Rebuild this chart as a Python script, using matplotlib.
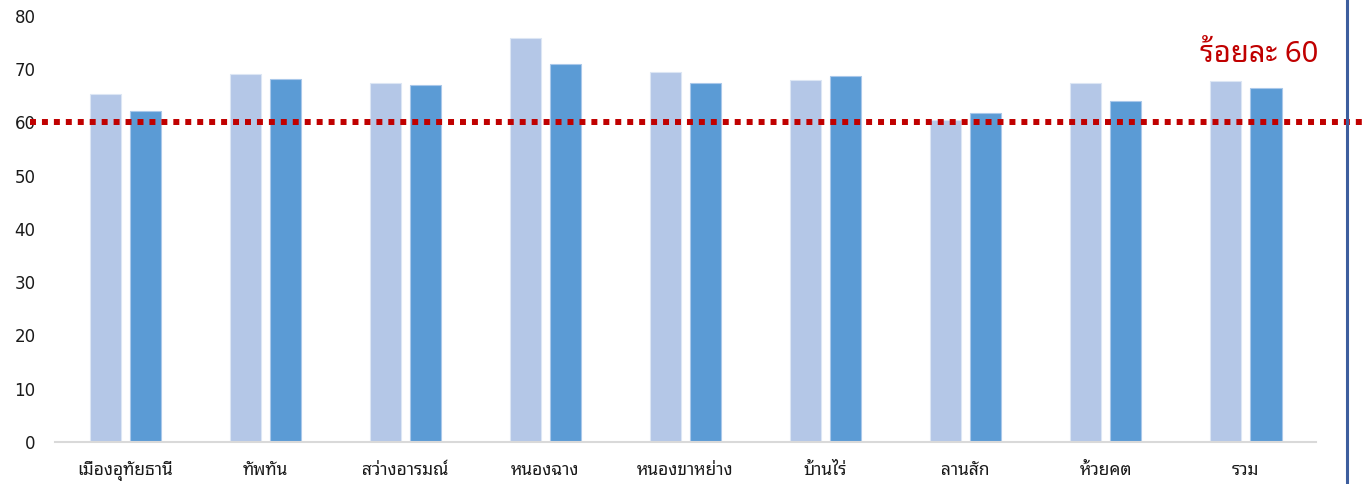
import matplotlib
matplotlib.use("Agg")
import matplotlib.pyplot as plt
import matplotlib.transforms as mtransforms
import numpy as np

# --- data -------------------------------------------------------------
districts = ["เมืองอุทัยธานี", "ทัพทัน", "สว่างอารมณ์", "หนองฉาง", "หนองขาหย่าง",
             "บ้านไร่", "ลานสัก", "ห้วยคต", "รวม"]
series_a = [65.3, 69.1, 67.4, 75.9, 69.5, 67.9, 60.5, 67.4, 67.8]
series_b = [62.2, 68.1, 67.1, 70.9, 67.4, 68.8, 61.8, 64.0, 66.4]
target = 60
target_label = "ร้อยละ 60"
y_ticks = [0, 10, 20, 30, 40, 50, 60, 70, 80]

THAI = ["Noto Sans Thai Looped", "Loma", "DejaVu Sans"]
plt.rcParams["font.family"] = ["DejaVu Sans"]

fig = plt.figure(figsize=(13.63, 4.84), dpi=100)
fig.patch.set_facecolor("white")
ax = fig.add_axes([0.0404, 0.0868, 0.9251, 0.8802])

x = np.arange(len(districts))
w = 0.222
off = 0.143
ax.bar(x - off, series_a, width=w, color="#B4C7E7", edgecolor="#DCE6F4", linewidth=0.8)
ax.bar(x + off, series_b, width=w, color="#5B9BD5", edgecolor="#A9C8EA", linewidth=0.8)

ax.set_xlim(-0.5, len(districts) - 0.5)
ax.set_ylim(0, 80)
ax.set_yticks(y_ticks)
ax.set_xticks(x)
ax.set_xticklabels(districts, family=THAI, fontsize=12.5, fontweight="medium")
ax.tick_params(axis="both", length=0, colors="#1a1a1a")
ax.tick_params(axis="y", pad=14, labelsize=12)
ax.tick_params(axis="x", pad=14)
for s in ["top", "right", "left"]:
    ax.spines[s].set_visible(False)
ax.spines["bottom"].set_color("#D9D9D9")
ax.spines["bottom"].set_linewidth(1.5)

# dotted target line across the whole figure width
trans = mtransforms.blended_transform_factory(fig.transFigure, ax.transData)
ax.plot([0.022, 1.0], [target, target], transform=trans, clip_on=False,
        color="#C00000", linewidth=4.3, linestyle=(0, (1, 1)),
        dash_capstyle="butt", zorder=5)
ax.text(1259 / 1363, 1 - 55 / 484, target_label, transform=fig.transFigure,
        ha="center", va="center", fontsize=21, color="#C00000",
        family=THAI, fontweight="semibold")

# vertical rule on the right
fig.add_artist(plt.Line2D([1347 / 1363, 1347 / 1363], [0, 1], transform=fig.transFigure,
                          color="#3D5E9E", linewidth=2.2))

fig.savefig("out.png", dpi=100, facecolor="white")
